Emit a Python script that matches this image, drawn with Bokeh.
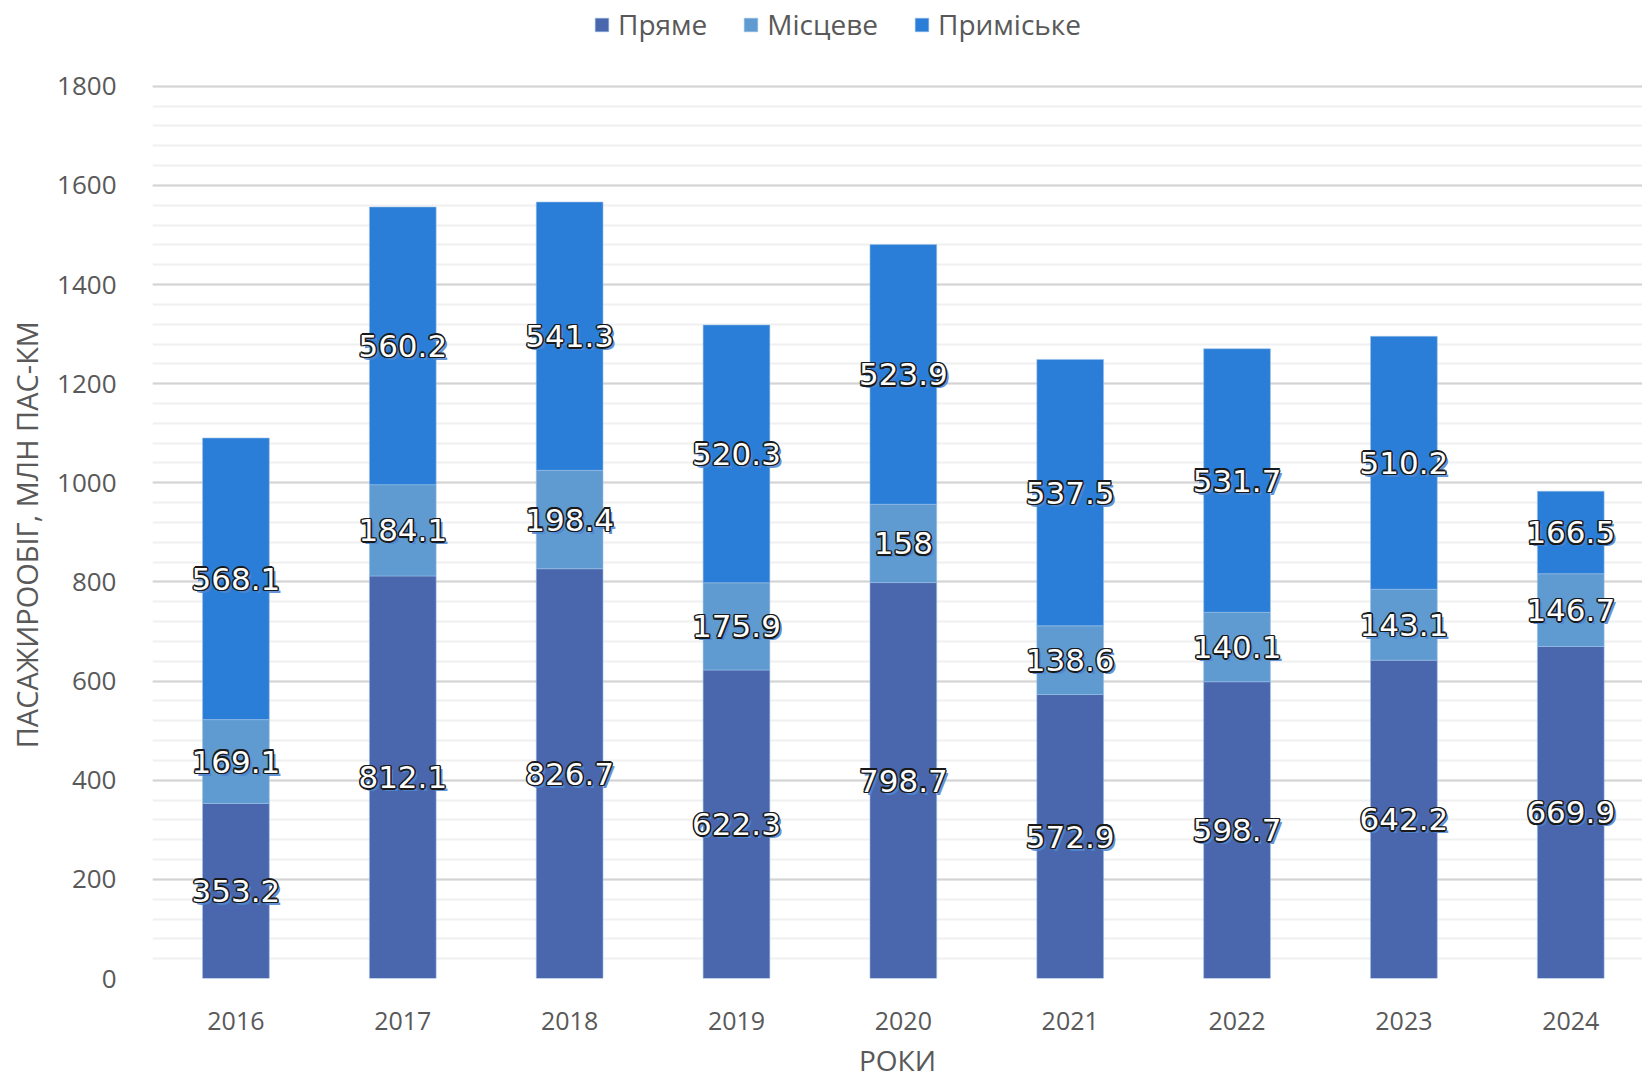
from bokeh.plotting import figure
from bokeh.models import ColumnDataSource, Legend, LegendItem, SingleIntervalTicker, FixedTicker, Range1d
from bokeh.core.properties import value
from bokeh.embed import file_html
from bokeh.resources import INLINE

years = ["2016", "2017", "2018", "2019", "2020", "2021", "2022", "2023", "2024"]
direct = [353.2, 812.1, 826.7, 622.3, 798.7, 572.9, 598.7, 642.2, 669.9]
local = [169.1, 184.1, 198.4, 175.9, 158, 138.6, 140.1, 143.1, 146.7]
suburban = [568.1, 560.2, 541.3, 520.3, 523.9, 537.5, 531.7, 510.2, 166.5]
series_names = ["Пряме", "Місцеве", "Приміське"]
colors = ["#4A66AC", "#5F9BD1", "#2A7ED7"]

FONT = "Open Sans"
LFONT = "DejaVu Sans"
GREY = "#595959"

xpos = list(range(len(years)))
src = ColumnDataSource(dict(x=xpos, direct=direct, local=local, suburban=suburban))

# frame runs from the canvas top down to the zero line; 1800 sits 86 px below the top
p = figure(x_range=Range1d(-0.5, 8.43), y_range=Range1d(0, 1973), width=1642, height=1081,
           output_backend="svg", toolbar_location=None,
           min_border_left=152, min_border_right=0, min_border_top=0, min_border_bottom=100)

rs = p.vbar_stack(["direct", "local", "suburban"], x="x", width=0.4, source=src,
                  color=colors, line_color="#9CC0E6", line_width=0.8, line_alpha=0.7)

# labels
xs, ys, txt = [], [], []
for i in xpos:
    segs = [direct[i], local[i], suburban[i]]
    base = 0.0
    for v in segs:
        xs.append(i)
        ys.append(base + v / 2)
        txt.append(f"{v:g}")
        base += v
lab = ColumnDataSource(dict(x=xs, y=ys, t=txt))
common = dict(x="x", y="y", text="t", source=lab, text_align="center", text_baseline="middle",
              text_font=value(LFONT), text_font_size="31px")
# shadow
p.text(text_color="#4F86CF", x_offset=3, y_offset=3, text_alpha=0.9, **common)
# dark outline
for dx, dy in [(-1.5, 0), (1.5, 0), (0, -1.5), (0, 1.5), (-1.1, -1.1), (1.1, -1.1), (-1.1, 1.1), (1.1, 1.1)]:
    p.text(text_color="#1A1A1A", x_offset=dx, y_offset=dy, **common)
p.text(text_color="white", **common)

# axes / grid
p.xaxis.ticker = FixedTicker(ticks=xpos)
p.xaxis.major_label_overrides = {i: y for i, y in zip(xpos, years)}
p.yaxis.ticker = SingleIntervalTicker(interval=200, num_minor_ticks=5)
p.ygrid.bounds = (0, 1800)
p.ygrid.grid_line_color = "#D4D4D4"
p.ygrid.grid_line_width = 2
p.ygrid.minor_grid_line_color = "#F0F0F0"
p.ygrid.minor_grid_line_width = 2
p.xgrid.grid_line_color = None
for ax in (p.xaxis, p.yaxis):
    ax.axis_line_color = None
    ax.major_tick_line_color = None
    ax.minor_tick_line_color = None
    ax.major_label_text_font = FONT
    ax.major_label_text_color = GREY
    ax.axis_label_text_font = FONT
    ax.axis_label_text_color = GREY
    ax.axis_label_text_font_style = "normal"
p.yaxis.major_label_text_font_size = "26px"
p.xaxis.major_label_text_font_size = "25px"
p.yaxis.axis_label_text_font_size = "29px"
p.xaxis.axis_label_text_font_size = "28px"
p.yaxis.major_label_standoff = 30
p.xaxis.major_label_standoff = 27
# trailing no-break spaces shift the visible title down to the middle of the 0..1800 span
p.yaxis.axis_label = "ПАСАЖИРООБІГ, МЛН ПАС-КМ" + "\u00a0" * 12
p.xaxis.axis_label = "РОКИ"
p.yaxis.axis_label_standoff = 8
p.xaxis.axis_label_standoff = 8
p.outline_line_color = None

legend = Legend(items=[LegendItem(label=n, renderers=[r]) for n, r in zip(series_names, rs)],
                orientation="horizontal", location=(441, 935),
                label_text_font=FONT, label_text_font_size="28px", label_text_color=GREY,
                glyph_width=17, glyph_height=17, spacing=35, label_standoff=8,
                border_line_color=None, background_fill_alpha=0, padding=0, margin=0)
p.add_layout(legend, "center")

open("out.html", "w").write(file_html(p, INLINE))
